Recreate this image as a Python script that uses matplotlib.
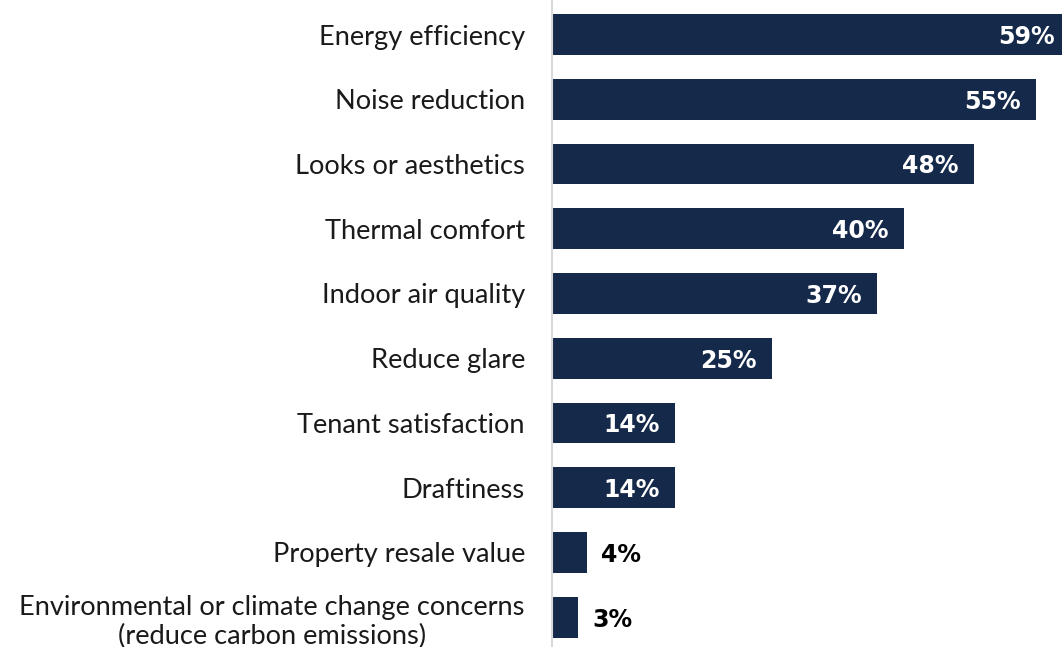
import matplotlib
matplotlib.use("Agg")
import matplotlib.pyplot as plt

categories = [
    "Energy efficiency",
    "Noise reduction",
    "Looks or aesthetics",
    "Thermal comfort",
    "Indoor air quality",
    "Reduce glare",
    "Tenant satisfaction",
    "Draftiness",
    "Property resale value",
    "Environmental or climate change concerns\n(reduce carbon emissions)",
]
values = [59, 55, 48, 40, 37, 25, 14, 14, 4, 3]

BAR_COLOR = "#15294a"
FONT = ["Lato", "DejaVu Sans"]
VALUE_FONT = ["DejaVu Sans"]

W, H = 1062, 647
fig = plt.figure(figsize=(W / 100, H / 100), dpi=100)
ax_left = 552 / W
ax = fig.add_axes([ax_left, 0, 1 - ax_left, 1])

y = list(range(len(categories)))
ax.barh(y, values, height=0.63, color=BAR_COLOR)

ax.set_xlim(0, 58)
ax.set_ylim(9.46, -0.533)

for yi, v in zip(y, values):
    label = f"{v}%"
    if v >= 10:
        ax.annotate(label, (min(v, 58.9), yi), xytext=(-11, 0), textcoords="offset points",
                    ha="right", va="center_baseline", color="white", fontsize=17,
                    fontweight="bold", family=VALUE_FONT, annotation_clip=False)
    else:
        ax.annotate(label, (v, yi), xytext=(10, 0), textcoords="offset points",
                    ha="left", va="center_baseline", color="black", fontsize=17,
                    fontweight="bold", family=VALUE_FONT)

ax.set_yticks(y)
ax.set_yticklabels(categories, fontsize=19.6, family=FONT, color="#1a1a1a",
                   multialignment="center")
ax.tick_params(axis="y", length=0, pad=19.5)
ax.set_xticks([])

for side in ["top", "right", "bottom"]:
    ax.spines[side].set_visible(False)
ax.spines["left"].set_color("#d9d9d9")
ax.spines["left"].set_linewidth(1.5)

fig.savefig("out.png", dpi=100)
